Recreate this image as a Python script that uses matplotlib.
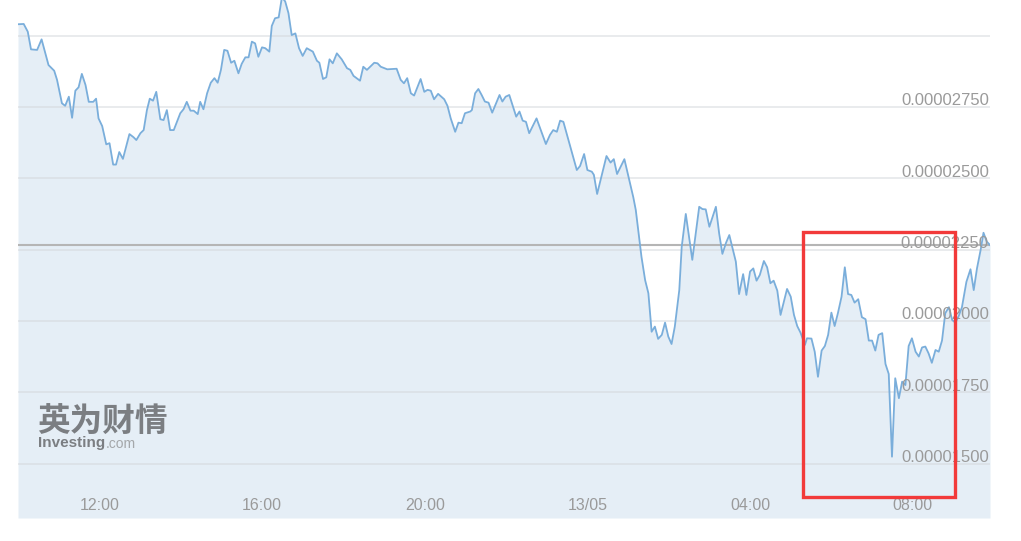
import matplotlib
matplotlib.use("Agg")
import matplotlib.pyplot as plt
from matplotlib.patches import Rectangle
import numpy as np

# time in hours from 12/05 00:00, price in units of 1e-8
hours = [10.00, 10.14, 10.24, 10.32, 10.47, 10.58, 10.75, 10.89, 10.96, 11.08,
         11.16, 11.25, 11.33, 11.41, 11.49, 11.57, 11.66, 11.74, 11.85, 11.92,
         11.98, 12.07, 12.17, 12.25, 12.34, 12.41, 12.49, 12.58, 12.74, 12.84,
         12.91, 13.01, 13.09, 13.17, 13.24, 13.32, 13.40, 13.50, 13.58, 13.66,
         13.74, 13.83, 13.99, 14.07, 14.15, 14.24, 14.32, 14.42, 14.48, 14.56,
         14.65, 14.74, 14.83, 14.91, 14.99, 15.07, 15.15, 15.24, 15.32, 15.42,
         15.50, 15.59, 15.67, 15.75, 15.83, 15.91, 16.00, 16.08, 16.18, 16.24,
         16.32, 16.41, 16.49, 16.57, 16.65, 16.73, 16.82, 16.91, 17.00, 17.10,
         17.25, 17.35, 17.41, 17.50, 17.58, 17.66, 17.74, 17.84, 17.96, 18.09,
         18.17, 18.25, 18.41, 18.49, 18.58, 18.76, 18.84, 18.92, 19.08, 19.31,
         19.41, 19.49, 19.57, 19.66, 19.74, 19.90, 19.99, 20.07, 20.15, 20.23,
         20.33, 20.48, 20.56, 20.64, 20.75, 20.83, 20.91, 20.99, 21.12, 21.16,
         21.24, 21.32, 21.40, 21.48, 21.57, 21.66, 21.84, 21.91, 21.99, 22.08,
         22.25, 22.33, 22.41, 22.49, 22.57, 22.75, 22.98, 23.08, 23.16, 23.25,
         23.33, 23.41, 23.74, 23.82, 23.92, 24.00, 24.11, 24.16, 24.24, 24.47,
         24.57, 24.65, 24.73, 24.91, 25.13, 25.19, 25.33, 25.42, 25.50, 25.58,
         25.66, 25.74, 25.83, 25.91, 25.99, 26.07, 26.15, 26.26, 26.32, 26.42,
         26.58, 26.75, 26.83, 26.91, 27.00, 27.16, 27.24, 27.32, 27.41, 27.49,
         27.65, 27.73, 27.83, 27.91, 28.00, 28.08, 28.16, 28.24, 28.34, 28.42,
         28.50, 28.58, 28.67, 28.75, 28.91, 29.00, 29.08, 29.16, 29.24, 29.35,
         29.40, 29.51, 29.59, 29.67, 29.76, 29.84, 29.92, 30.00, 30.08, 30.16,
         30.25, 30.33, 30.41, 30.49, 30.57, 30.66, 30.75, 30.84, 30.92, 31.00,
         31.08, 31.16, 31.25, 31.33, 31.41, 31.49, 31.57, 31.66, 31.74, 31.82,
         31.90, 31.98, 32.07, 32.15, 32.23, 32.31, 32.39, 32.47, 32.56, 32.64,
         32.72, 32.80, 32.89, 32.97, 33.05, 33.13, 33.21, 33.32, 33.42, 33.50,
         33.58, 33.67, 33.74, 33.82, 33.90]
price_e8 = [3040, 3041, 3014, 2952, 2950, 2987, 2897, 2877, 2845, 2763,
            2754, 2786, 2712, 2807, 2819, 2866, 2827, 2768, 2768, 2779,
            2710, 2683, 2619, 2623, 2548, 2548, 2592, 2568, 2655, 2644,
            2634, 2658, 2669, 2739, 2779, 2772, 2803, 2707, 2704, 2739,
            2669, 2669, 2728, 2742, 2768, 2737, 2737, 2725, 2768, 2742,
            2798, 2835, 2851, 2835, 2880, 2950, 2947, 2905, 2912, 2868,
            2901, 2924, 2924, 2979, 2973, 2926, 2959, 2956, 2944, 3034,
            3061, 3064, 3135, 3120, 3079, 3002, 3008, 2956, 2929, 2956,
            2944, 2912, 2905, 2848, 2854, 2917, 2903, 2938, 2917, 2886,
            2880, 2859, 2842, 2891, 2880, 2905, 2903, 2891, 2882, 2884,
            2845, 2833, 2851, 2798, 2790, 2848, 2803, 2810, 2807, 2777,
            2796, 2777, 2754, 2710, 2663, 2695, 2693, 2728, 2734, 2739,
            2798, 2813, 2792, 2769, 2765, 2730, 2792, 2769, 2786, 2792,
            2716, 2734, 2702, 2698, 2658, 2710, 2620, 2652, 2669, 2663,
            2702, 2698, 2529, 2543, 2585, 2529, 2523, 2512, 2445, 2578,
            2555, 2567, 2515, 2567, 2433, 2389, 2225, 2143, 2097, 1962,
            1980, 1937, 1951, 1994, 1945, 1919, 1980, 2108, 2260, 2375,
            2214, 2400, 2392, 2391, 2330, 2400, 2307, 2235, 2274, 2301,
            2208, 2094, 2164, 2091, 2173, 2184, 2141, 2161, 2210, 2188,
            2132, 2141, 2106, 2021, 2112, 2085, 2021, 1982, 1959, 1916,
            1939, 1938, 1892, 1804, 1896, 1912, 1951, 2029, 1982, 2027,
            2085, 2188, 2094, 2091, 2064, 2076, 2013, 2006, 1931, 1931,
            1896, 1951, 1957, 1849, 1814, 1524, 1799, 1729, 1787, 1775,
            1912, 1939, 1892, 1875, 1907, 1910, 1886, 1853, 1898, 1892,
            1931, 2027, 2048, 2003, 1994, 2017, 2048, 2137, 2181, 2108,
            2184, 2249, 2309, 2278, 2266]

tick_hours = [12, 16, 20, 24, 28, 32]
tick_labels = ["12:00", "16:00", "20:00", "13/05", "04:00", "08:00"]
grid_levels = [0.000015, 0.0000175, 0.00002, 0.0000225, 0.000025, 0.0000275, 0.00003]
label_levels = [0.000015, 0.0000175, 0.00002, 0.0000225, 0.000025, 0.0000275]

# highlight box (hours, price)
box_x = (29.30, 33.03)
box_y = (0.00001383, 0.00002312)

prices = np.array(price_e8) * 1e-8
y_lo, y_hi = 0.00001309, 0.00003125
px = (y_hi - y_lo) / 518  # one pixel in price units

fig = plt.figure(figsize=(10.21, 5.41), dpi=100)
ax = fig.add_axes([18 / 1021, 23 / 541, 972 / 1021, 518 / 541])
ax.set_xlim(10.0, 33.9)
ax.set_ylim(y_lo, y_hi)

ax.fill_between(hours, prices, y_lo, color="#e5eef6", lw=0, zorder=1)
for g in grid_levels:
    ax.axhline(g, color="#d5d8dc", lw=1.2, alpha=0.6, zorder=2)
ax.plot(hours, prices, color="#7aaedb", lw=1.3, zorder=3)
ax.axhline(prices[-1], color="#b5b5b5", lw=1.5, zorder=2.5)

for g in label_levels:
    ax.text(33.87, g + 6 * px, "%.8f" % g, ha="right", va="center", fontsize=12,
            family="Liberation Sans", color="#9a9a9a", zorder=5)

for h, lab in zip(tick_hours, tick_labels):
    ax.text(h, y_lo + 12 * px, lab, ha="center", va="center",
            fontsize=11.5, family=["Liberation Sans Narrow", "Liberation Sans"],
            color="#9a9a9a", zorder=5)

ax.add_patch(Rectangle((box_x[0], box_y[0]), box_x[1] - box_x[0], box_y[1] - box_y[0],
                       fill=False, edgecolor="#f23a3a", lw=2.4, zorder=6))

# watermark
fig.text(37 / 1021, 1 - 421 / 541, "英为财情", fontsize=23.5, fontweight="bold",
         family=["Noto Sans CJK SC", "DejaVu Sans"], color="#7b7e82", va="center")
fig.text(38 / 1021, 1 - 443 / 541, "Investing", fontsize=11, fontweight="bold",
         family="Liberation Sans", color="#7b7e82", va="center")
fig.text(106 / 1021, 1 - 444 / 541, ".com", fontsize=10,
         family="Liberation Sans", color="#a4a7aa", va="center")

ax.set_xticks([])
ax.set_yticks([])
for s in ax.spines.values():
    s.set_visible(False)

fig.savefig("out.png", dpi=100)
